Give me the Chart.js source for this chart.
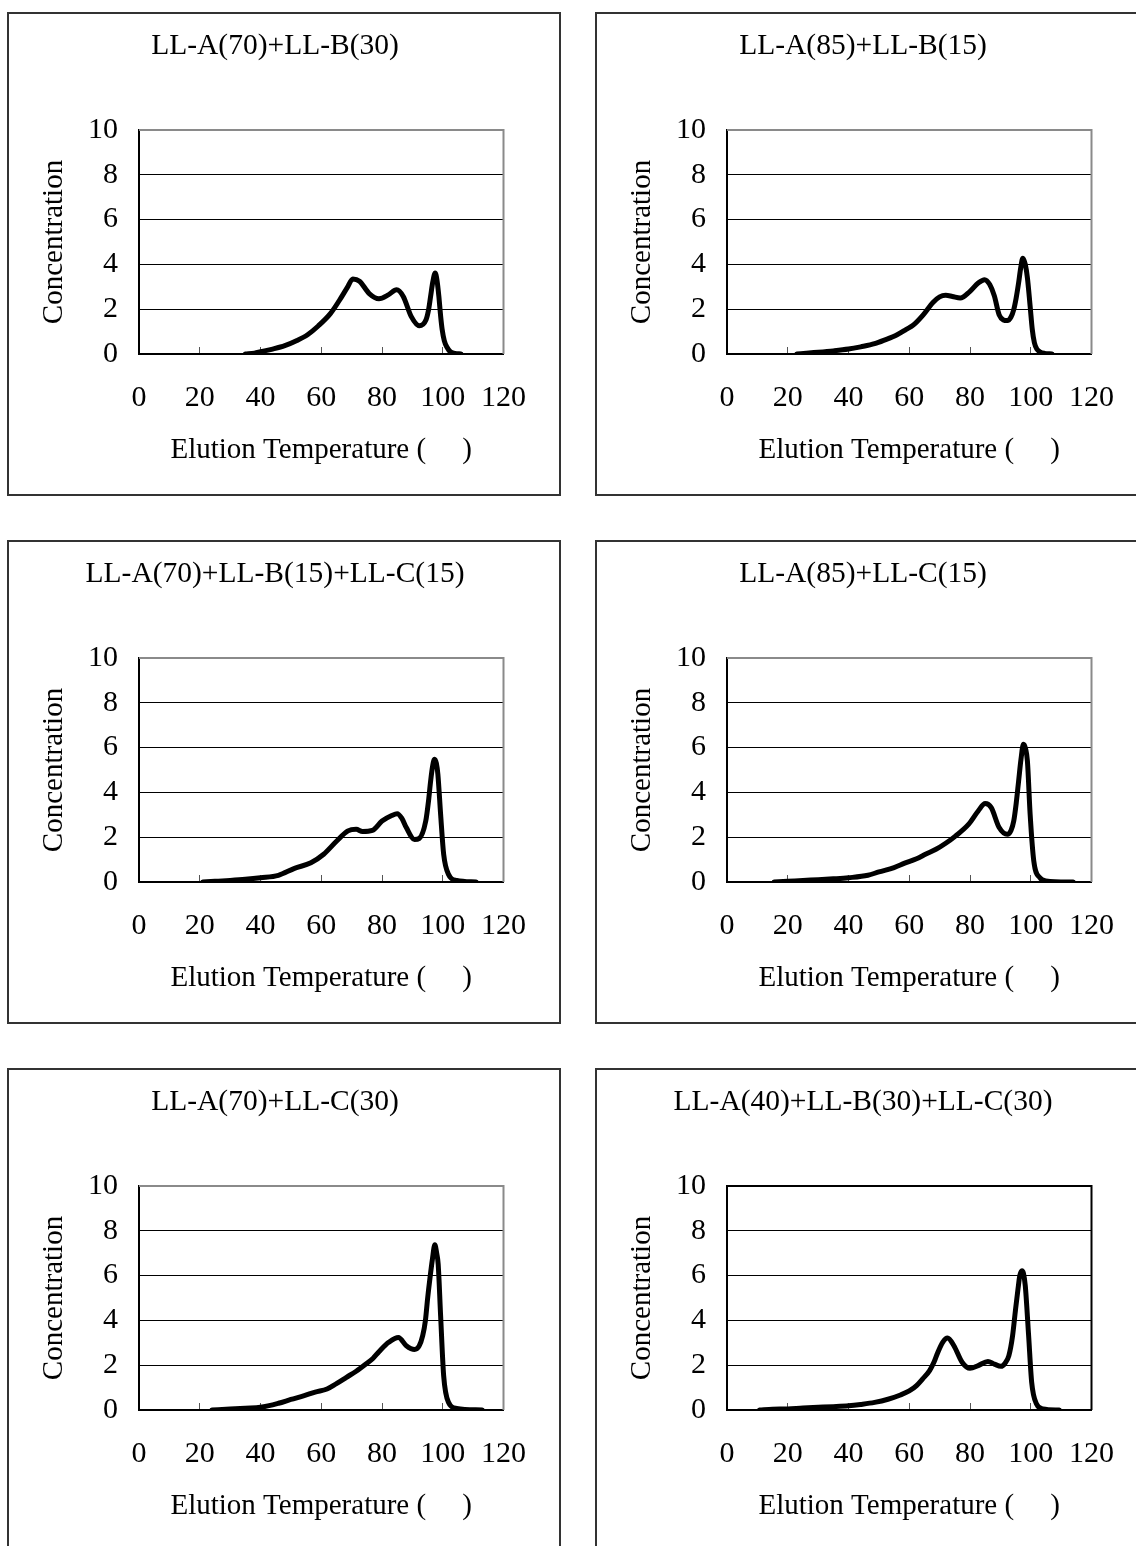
<!DOCTYPE html>
<html>
<head>
<meta charset="utf-8">
<script src="https://cdn.jsdelivr.net/npm/chart.js@4.4.1/dist/chart.umd.min.js"></script>
<style>
  html, body { margin: 0; padding: 0; background: #fff; width: 1136px; height: 1546px; overflow: hidden; }
  .panel { position: absolute; border: 2px solid #333; width: 550px; height: 480px; background: #fff; }
  .panel canvas { display: block; }
</style>
</head>
<body>
<div class="panel" style="left:7px;top:12px"><canvas id="c0" width="550" height="480"></canvas></div>
<div class="panel" style="left:595px;top:12px"><canvas id="c1" width="550" height="480"></canvas></div>
<div class="panel" style="left:7px;top:540px"><canvas id="c2" width="550" height="480"></canvas></div>
<div class="panel" style="left:595px;top:540px"><canvas id="c3" width="550" height="480"></canvas></div>
<div class="panel" style="left:7px;top:1068px"><canvas id="c4" width="550" height="480"></canvas></div>
<div class="panel" style="left:595px;top:1068px"><canvas id="c5" width="550" height="480"></canvas></div>
<script>
// Axis ticks shared by every panel
const xTicks = [0, 20, 40, 60, 80, 100, 120];
const yTicks = [0, 2, 4, 6, 8, 10];
const xTitle = 'Elution Temperature (     )';
const yTitle = 'Concentration';

// Blend names
const titles = [
  'LL-A(70)+LL-B(30)',
  'LL-A(85)+LL-B(15)',
  'LL-A(70)+LL-B(15)+LL-C(15)',
  'LL-A(85)+LL-C(15)',
  'LL-A(70)+LL-C(30)',
  'LL-A(40)+LL-B(30)+LL-C(30)'
];

// Elution curves: temperature (°C) and concentration
const tempA70B30 = [35, 38, 40, 44, 48, 52, 55.5, 59, 63, 66, 68.5, 70.4, 72.6, 75.8, 79, 82.2, 84.8, 87, 89.6, 92.3, 94.5, 95.3, 96, 96.7, 97.5, 98.1, 98.7, 99.3, 99.8, 100.5, 101.4, 102.5, 104, 106];
const concA70B30 = [0, 0.04, 0.1, 0.22, 0.37, 0.6, 0.86, 1.25, 1.8, 2.4, 2.95, 3.35, 3.25, 2.7, 2.47, 2.65, 2.87, 2.57, 1.68, 1.26, 1.53, 1.95, 2.57, 3.2, 3.62, 3.3, 2.6, 1.7, 1.1, 0.6, 0.3, 0.1, 0.03, 0];

const tempA85B15 = [23, 27, 30, 35, 40, 44, 48.6, 52, 56, 59, 61.4, 64.6, 67.8, 70, 72, 74.2, 76.8, 80, 82.7, 84.8, 86.5, 88, 89.6, 91, 92.3, 93.5, 94.4, 95.2, 96, 96.7, 97.4, 98.2, 98.9, 99.8, 100.5, 101.2, 102, 103, 104.5, 107];
const concA85B15 = [0, 0.05, 0.08, 0.14, 0.22, 0.32, 0.46, 0.63, 0.86, 1.1, 1.3, 1.75, 2.3, 2.55, 2.62, 2.57, 2.5, 2.8, 3.17, 3.32, 3.1, 2.6, 1.75, 1.52, 1.49, 1.65, 1.98, 2.5, 3.17, 3.85, 4.28, 4.0, 3.4, 2.13, 1.1, 0.5, 0.22, 0.1, 0.03, 0];

const tempA70B15C15 = [21, 25, 30, 35, 40, 45.9, 51.2, 56.6, 60.8, 65.1, 68.8, 71.5, 73.6, 76.8, 80, 83.2, 85, 86.5, 88, 90.7, 92.3, 94.4, 95.3, 96, 96.7, 97.3, 97.9, 98.4, 99.3, 100.3, 101.9, 104.6, 111];
const concA70B15C15 = [0, 0.03, 0.07, 0.12, 0.19, 0.3, 0.61, 0.86, 1.24, 1.83, 2.28, 2.35, 2.25, 2.3, 2.72, 2.97, 3.05, 2.85, 2.43, 1.9, 1.95, 2.72, 3.6, 4.5, 5.2, 5.48, 5.3, 4.8, 3.02, 1.24, 0.34, 0.07, 0];

const tempA85C15 = [15.5, 20, 25, 30, 35, 40, 46.4, 50, 55, 58.5, 62.4, 65.5, 68.8, 72, 75.2, 79.5, 82.7, 85, 87, 89.6, 92.3, 93.5, 94.4, 95.2, 96, 96.8, 97.6, 98.3, 98.9, 99.8, 101, 103, 105, 114];
const concA85C15 = [0, 0.03, 0.07, 0.1, 0.14, 0.19, 0.3, 0.45, 0.64, 0.84, 1.04, 1.25, 1.46, 1.73, 2.05, 2.57, 3.17, 3.5, 3.32, 2.43, 2.13, 2.3, 2.72, 3.5, 4.5, 5.5, 6.15, 5.95, 5.4, 3.02, 0.94, 0.19, 0.05, 0];

const tempA70C30 = [24, 30, 35, 40, 45.9, 50, 54.4, 58, 61.9, 65, 68.3, 71.5, 74.7, 77, 79, 82.2, 85.4, 88, 90.7, 92.2, 93.4, 94.3, 95, 95.8, 96.6, 97.4, 98, 98.5, 99.3, 100.3, 101.9, 104.6, 113];
const concA70C30 = [0, 0.04, 0.08, 0.12, 0.3, 0.47, 0.64, 0.8, 0.94, 1.18, 1.46, 1.73, 2.05, 2.3, 2.6, 3.02, 3.24, 2.87, 2.7, 2.85, 3.32, 4.0, 4.96, 5.9, 6.74, 7.38, 7.0, 6.5, 4.2, 1.53, 0.34, 0.07, 0];

const tempA40B30C30 = [10.7, 15, 20, 25, 30, 35, 40, 44, 48.6, 53, 57.1, 60, 62.4, 64.5, 66.7, 68.2, 69.4, 71, 72.6, 74.7, 77.4, 80, 82.7, 85.9, 88, 90.2, 91.6, 92.8, 94, 95, 95.8, 96.4, 97.1, 97.6, 98.2, 99.3, 100.3, 101.9, 104, 109.4];
const concA40B30C30 = [0, 0.03, 0.05, 0.09, 0.12, 0.15, 0.19, 0.25, 0.34, 0.48, 0.67, 0.85, 1.09, 1.4, 1.76, 2.15, 2.57, 3.02, 3.21, 2.87, 2.13, 1.86, 1.98, 2.17, 2.05, 1.95, 2.1, 2.43, 3.3, 4.5, 5.4, 6.0, 6.22, 6.1, 5.55, 3.32, 1.24, 0.27, 0.05, 0];

const temps = [tempA70B30, tempA85B15, tempA70B15C15, tempA85C15, tempA70C30, tempA40B30C30];
const concs = [concA70B30, concA85B15, concA70B15C15, concA85C15, concA70C30, concA40B30C30];

// Top and right edges of the plotting area
const plotFrame = {
  id: 'plotFrame',
  beforeDatasetsDraw(chart, args, opts) {
    const { left, top, right, bottom } = chart.chartArea;
    const ctx = chart.ctx;
    ctx.save();
    ctx.strokeStyle = opts.color;
    ctx.lineWidth = opts.width;
    ctx.beginPath();
    ctx.moveTo(left, top);
    ctx.lineTo(right, top);
    ctx.lineTo(right, bottom);
    ctx.stroke();
    ctx.restore();
  }
};

const serif = 'Liberation Serif, Times New Roman, serif';

titles.forEach((title, i) => {
  const points = temps[i].map((t, k) => ({ x: t, y: concs[i][k] }));
  const darkFrame = i === 5;
  new Chart(document.getElementById('c' + i), {
    type: 'line',
    data: {
      datasets: [{
        data: points,
        borderColor: '#000',
        borderWidth: 5,
        pointRadius: 0,
        fill: false,
        cubicInterpolationMode: 'monotone',
        borderJoinStyle: 'round',
        borderCapStyle: 'round'
      }]
    },
    options: {
      responsive: false,
      animation: false,
      events: [],
      layout: { padding: { left: 29, top: 0, right: 47, bottom: 0 } },
      plugins: {
        legend: { display: false },
        tooltip: { enabled: false },
        title: {
          display: true,
          text: title,
          color: '#000',
          font: { family: serif, size: 29.5, weight: 'normal' },
          padding: { top: 15, bottom: 65.6 }
        },
        plotFrame: { color: darkFrame ? '#000' : '#8a8a8a', width: 2 }
      },
      scales: {
        x: {
          type: 'linear',
          min: 0,
          max: 120,
          afterBuildTicks: s => { s.ticks = xTicks.map(v => ({ value: v })); },
          afterFit: s => { s.height = 140; },
          ticks: {
            color: '#000',
            padding: 33,
            maxRotation: 0,
            font: { family: serif, size: 30 }
          },
          grid: {
            drawOnChartArea: false,
            drawTicks: true,
            tickLength: -7,
            tickColor: '#555',
            tickWidth: 1
          },
          border: { display: true, color: '#000', width: 2 },
          title: {
            display: true,
            text: xTitle,
            color: '#000',
            font: { family: serif, size: 29 },
            padding: { top: 0, bottom: 26 }
          }
        },
        y: {
          type: 'linear',
          min: 0,
          max: 10,
          afterBuildTicks: s => { s.ticks = yTicks.map(v => ({ value: v })); },
          afterFit: s => { s.width = 101; },
          ticks: {
            color: '#000',
            padding: 29,
            font: { family: serif, size: 30 }
          },
          grid: {
            color: c => (c.tick && c.tick.value === 10) ? 'rgba(0,0,0,0)' : '#000',
            lineWidth: 1,
            drawTicks: true,
            tickLength: -8,
            tickColor: '#000',
            tickWidth: 1
          },
          border: { display: true, color: '#000', width: 2 },
          title: {
            display: true,
            text: yTitle,
            color: '#000',
            font: { family: serif, size: 29 },
            padding: { top: -1, bottom: 0 }
          }
        }
      }
    },
    plugins: [plotFrame]
  });
});
</script>
</body>
</html>
